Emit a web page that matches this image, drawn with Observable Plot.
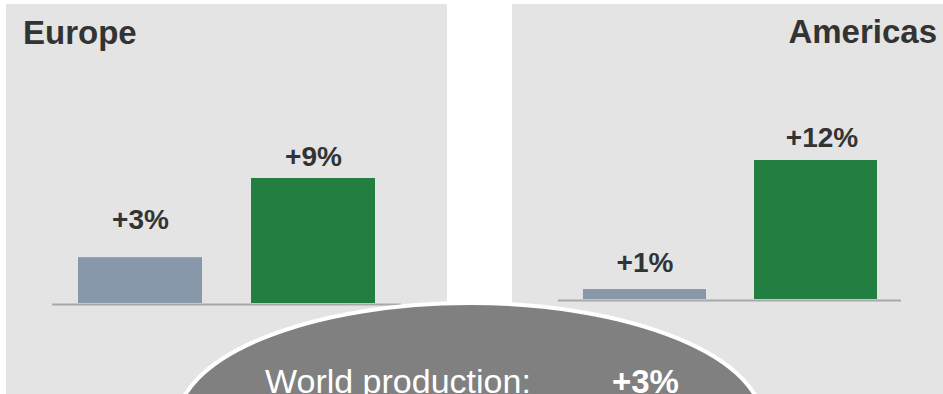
<!DOCTYPE html>
<html>
<head>
<meta charset="utf-8">
<script src="https://cdn.jsdelivr.net/npm/d3@7"></script>
<script src="https://cdn.jsdelivr.net/npm/@observablehq/plot@0.6"></script>
<style>
  html, body { margin: 0; padding: 0; background: #ffffff; }
  #wrap { position: relative; width: 943px; height: 394px; overflow: hidden; font-family: "Liberation Sans", Arial, sans-serif; }
  #wrap > svg { position: absolute; }
</style>
</head>
<body>
<div id="wrap"></div>
<script>
// ---- data ----
const periods = ["Previous period", "Current period"];
const regions = ["Europe", "Americas"];
const europeValues = [3.3, 9.0];
const europeLabels = ["+3%", "+9%"];
const americasValues = [0.86, 12.0];
const americasLabels = ["+1%", "+12%"];
const worldLabel = "World production:";
const worldValue = "+3%";

// ---- style ----
const barColors = ["#8898aa", "#237f41"];
const panelBg = "#e3e4e3";
const textColor = "#333333";
const fontFamily = "'Liberation Sans', Arial, sans-serif";

function panel({values, labels, width, marginLeft, marginRight, marginTop, marginBottom, labelDy, labelDx, left, top}) {
  const rows = periods.map((p, i) => ({period: p, value: values[i], label: labels[i]}));
  const chart = Plot.plot({
    width,
    height: 390,
    marginLeft, marginRight, marginTop, marginBottom,
    style: {background: panelBg, fontFamily, overflow: "visible"},
    x: {domain: periods, paddingInner: 0.2816, paddingOuter: 0.1437, axis: null},
    y: {axis: null},
    color: {domain: periods, range: barColors},
    marks: [
      Plot.ruleY([0], {stroke: "#a8a8a8", strokeWidth: 2, dy: 1}),
      Plot.barY(rows, {x: "period", y: "value", fill: "period"}),
      ...rows.map((r, i) => Plot.text([r], {
        x: "period", y: "value", text: "label",
        lineAnchor: "bottom", dy: labelDy[i], dx: labelDx[i],
        fontSize: 28, fontWeight: "bold", fill: textColor
      }))
    ]
  });
  chart.style.left = left + "px";
  chart.style.top = top + "px";
  return chart;
}

const wrap = document.getElementById("wrap");

wrap.appendChild(panel({
  values: europeValues, labels: europeLabels,
  width: 441, marginLeft: 46, marginRight: 46, marginTop: 174, marginBottom: 91,
  labelDy: [-29, -13], labelDx: [0, 0], left: 6, top: 4
}));

wrap.appendChild(panel({
  values: americasValues, labels: americasLabels,
  width: 431, marginLeft: 46, marginRight: 42, marginTop: 156, marginBottom: 95,
  labelDy: [-18, -14], labelDx: [0, 6], left: 512, top: 4
}));

// ---- overlay: titles and world ellipse ----
const svg = d3.create("svg")
  .attr("width", 943).attr("height", 394)
  .style("left", "0px").style("top", "0px")
  .style("font-family", fontFamily);

svg.append("text")
  .attr("x", 23).attr("y", 44)
  .attr("font-size", 33).attr("font-weight", "bold").attr("fill", textColor)
  .text(regions[0]);

svg.append("text")
  .attr("x", 937).attr("y", 43).attr("text-anchor", "end")
  .attr("font-size", 33).attr("font-weight", "bold").attr("fill", textColor)
  .text(regions[1]);

svg.append("ellipse")
  .attr("cx", 470).attr("cy", 423).attr("rx", 293).attr("ry", 120)
  .attr("fill", "#808080").attr("stroke", "#ffffff").attr("stroke-width", 4);

svg.append("text")
  .attr("x", 265).attr("y", 393)
  .attr("font-size", 34).attr("fill", "#ffffff")
  .text(worldLabel);

svg.append("text")
  .attr("x", 612).attr("y", 393)
  .attr("font-size", 33).attr("font-weight", "bold").attr("fill", "#ffffff")
  .text(worldValue);

wrap.appendChild(svg.node());
</script>
</body>
</html>
